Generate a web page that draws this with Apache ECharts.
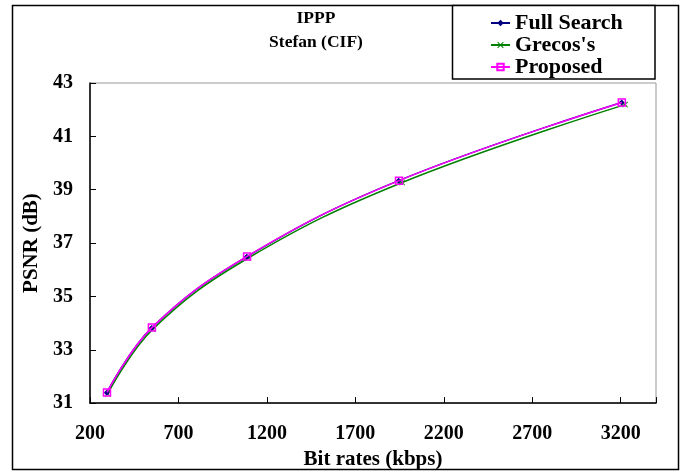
<!DOCTYPE html>
<html>
<head>
<meta charset="utf-8">
<script src="https://cdn.jsdelivr.net/npm/echarts@6/dist/echarts.min.js"></script>
<style>html,body{margin:0;padding:0;background:#fff}#c{width:683px;height:475px}</style>
</head>
<body>
<div id="c"></div>
<script>
var seriesNames = ["Full Search", "Grecos's", "Proposed"];
var fullSearch = [[295, 31.39], [549, 33.82], [1087, 36.49], [1945, 39.34], [3206, 42.27]];
var grecos = [[300, 31.35], [555, 33.77], [1095, 36.44], [1965, 39.27], [3225, 42.19]];
var proposed = [[296, 31.40], [550, 33.83], [1088, 36.50], [1947, 39.34], [3207, 42.27]];
var xTicks = [200, 700, 1200, 1700, 2200, 2700, 3200];
var yTicks = [31, 33, 35, 37, 39, 41, 43];
var titleLines = ["IPPP", "Stefan (CIF)"];
var xName = "Bit rates (kbps)";
var yName = "PSNR (dB)";

var FONT = "Liberation Serif";
var chart = echarts.init(document.getElementById('c'), null, {renderer: 'canvas'});
var xSymbol = 'path://M0,1L1,0L5,4L9,0L10,1L6,5L10,9L9,10L5,6L1,10L0,9L4,5Z';

chart.setOption({
  animation: false,
  backgroundColor: '#fff',
  graphic: [
    {type: 'rect', z: -1, shape: {x: 12.5, y: 5.5, width: 666, height: 464}, style: {fill: '#fff', stroke: '#000', lineWidth: 1.5}},
    {type: 'rect', z: 10, shape: {x: 452.5, y: 5.5, width: 202.5, height: 73.5}, style: {fill: '#fff', stroke: '#000', lineWidth: 1.5}},
    {type: 'text', z: 5, style: {text: titleLines[0], x: 316, y: 18, textAlign: 'center', textVerticalAlign: 'middle', font: 'bold 17.5px "' + FONT + '"', fill: '#000'}},
    {type: 'text', z: 5, style: {text: titleLines[1], x: 316, y: 42, textAlign: 'center', textVerticalAlign: 'middle', font: 'bold 17.5px "' + FONT + '"', fill: '#000'}}
  ],
  legend: {
    orient: 'vertical',
    left: 490,
    top: 12,
    padding: 0,
    z: 20,
    itemWidth: 19,
    itemHeight: 8,
    itemGap: 0,
    textStyle: {fontFamily: FONT, fontWeight: 'bold', fontSize: 22, lineHeight: 22, color: '#000'},
    data: seriesNames
  },
  grid: {left: 90, top: 83, right: 27, bottom: 71, show: true, borderColor: '#999', borderWidth: 1},
  xAxis: {
    type: 'value', min: 200, max: 3400, interval: 500,
    name: xName, nameLocation: 'middle', nameGap: 43,
    nameTextStyle: {fontFamily: FONT, fontWeight: 'bold', fontSize: 21, color: '#000'},
    axisLine: {onZero: false, lineStyle: {color: '#000', width: 1.5}},
    axisTick: {inside: true, length: 6, lineStyle: {color: '#000'}},
    splitLine: {show: false},
    axisLabel: {fontFamily: FONT, fontWeight: 'bold', fontSize: 20, color: '#000', margin: 21,
      formatter: function (v) { return xTicks.indexOf(v) >= 0 ? String(v) : ''; }}
  },
  yAxis: {
    type: 'value', min: 31, max: 43, interval: 2,
    name: yName, nameLocation: 'middle', nameGap: 45,
    nameTextStyle: {fontFamily: FONT, fontWeight: 'bold', fontSize: 21, color: '#000'},
    axisLine: {show: true, onZero: false, lineStyle: {color: '#000', width: 1.5}},
    axisTick: {show: true, inside: true, length: 6, lineStyle: {color: '#000'}},
    splitLine: {show: false},
    axisLabel: {fontFamily: FONT, fontWeight: 'bold', fontSize: 20, color: '#000', margin: 17,
      formatter: function (v) { return yTicks.indexOf(v) >= 0 ? String(v) : ''; }}
  },
  series: [
    {name: seriesNames[0], type: 'line', data: fullSearch, smooth: 0.4, symbol: 'diamond', symbolSize: 6,
      lineStyle: {color: '#000080', width: 1.5}, itemStyle: {color: '#000080'}, z: 3},
    {name: seriesNames[1], type: 'line', data: grecos, smooth: 0.4, symbol: xSymbol, symbolSize: 6,
      lineStyle: {color: '#008000', width: 1.5}, itemStyle: {color: '#008000'}, z: 2},
    {name: seriesNames[2], type: 'line', data: proposed, smooth: 0.4, symbol: 'rect', symbolSize: 7,
      lineStyle: {color: '#ff00ff', width: 1.5}, itemStyle: {color: 'transparent', borderColor: '#ff00ff', borderWidth: 1.5}, z: 4}
  ]
});
</script>
</body>
</html>
